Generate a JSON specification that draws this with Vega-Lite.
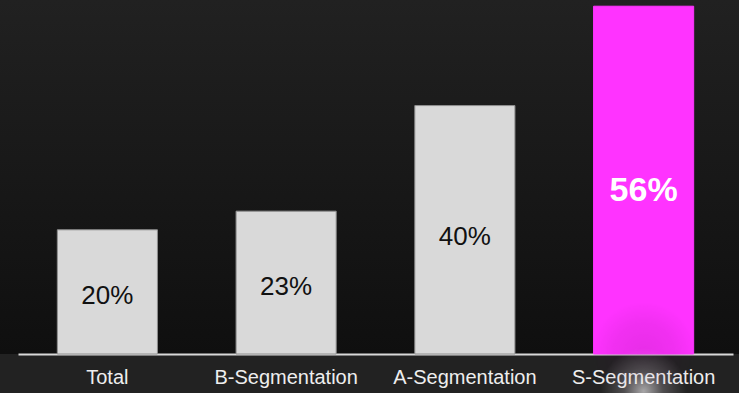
{
  "$schema": "https://vega.github.io/schema/vega-lite/v6.json",
  "width": 739,
  "height": 354,
  "autosize": "none",
  "padding": {"left": 0, "top": 0, "right": 0, "bottom": 39},
  "background": "#222222",
  "config": {
    "view": {
      "stroke": null,
      "fill": {
        "gradient": "linear",
        "x1": 0, "y1": 0, "x2": 0, "y2": 1,
        "stops": [
          {"offset": 0, "color": "#212121"},
          {"offset": 1, "color": "#0f0f0f"}
        ]
      }
    },
    "font": "Liberation Sans"
  },
  "data": {
    "values": [
      {"segment": "Total", "share": 20},
      {"segment": "B-Segmentation", "share": 23},
      {"segment": "A-Segmentation", "share": 40},
      {"segment": "S-Segmentation", "share": 56}
    ]
  },
  "encoding": {
    "x": {
      "field": "segment",
      "type": "nominal",
      "sort": null,
      "scale": {"range": [18, 733], "paddingInner": 0.44, "paddingOuter": 0.22},
      "axis": {
        "title": null,
        "ticks": false,
        "labelAngle": 0,
        "labelFont": "Liberation Sans",
        "labelFontSize": 20,
        "labelColor": "#eeeeee",
        "labelPadding": 13,
        "domainColor": "#d9d9d9",
        "domainWidth": 2
      }
    }
  },
  "layer": [
    {
      "mark": {"type": "bar", "strokeWidth": 1},
      "encoding": {
        "y": {
          "field": "share",
          "type": "quantitative",
          "scale": {"domain": [0, 57], "nice": false},
          "axis": null
        },
        "color": {
          "field": "segment",
          "type": "nominal",
          "scale": {
            "domain": ["Total", "B-Segmentation", "A-Segmentation", "S-Segmentation"],
            "range": ["#d9d9d9", "#d9d9d9", "#d9d9d9", "#ff33ff"]
          },
          "legend": null
        },
        "stroke": {
          "field": "segment",
          "type": "nominal",
          "scale": {
            "domain": ["Total", "B-Segmentation", "A-Segmentation", "S-Segmentation"],
            "range": ["#8f8f8f", "#8f8f8f", "#8f8f8f", "#ff33ff"]
          },
          "legend": null
        }
      }
    },
    {
      "mark": {
        "type": "point",
        "shape": "circle",
        "size": 11000,
        "strokeWidth": 0,
        "filled": true,
        "fill": {
          "gradient": "radial",
          "stops": [
            {"offset": 0, "color": "rgba(60,0,60,0.12)"},
            {"offset": 0.6, "color": "rgba(60,0,60,0.07)"},
            {"offset": 1, "color": "rgba(60,0,60,0)"}
          ]
        },
        "opacity": 1
      },
      "encoding": {
        "x": {"datum": "S-Segmentation"},
        "y": {"datum": 0}
      },
      "data": {"values": [{}]}
    },
    {
      "mark": {
        "type": "point",
        "shape": "circle",
        "size": 7500,
        "strokeWidth": 0,
        "filled": true,
        "fill": {
          "gradient": "radial",
          "stops": [
            {"offset": 0, "color": "rgba(255,255,255,0.6)"},
            {"offset": 0.45, "color": "rgba(255,255,255,0.2)"},
            {"offset": 1, "color": "rgba(255,255,255,0)"}
          ]
        },
        "opacity": 1
      },
      "encoding": {
        "x": {"datum": "S-Segmentation"},
        "y": {"datum": -6}
      },
      "data": {"values": [{}]}
    },
    {
      "transform": [
        {"filter": "datum.segment !== 'S-Segmentation'"},
        {"calculate": "datum.share * 0.47", "as": "labelY"},
        {"calculate": "datum.share + '%'", "as": "label"}
      ],
      "mark": {
        "type": "text",
        "font": "Liberation Sans",
        "fontSize": 26,
        "color": "#111111",
        "baseline": "middle"
      },
      "encoding": {
        "y": {"field": "labelY", "type": "quantitative"},
        "text": {"field": "label", "type": "nominal"}
      }
    },
    {
      "transform": [
        {"filter": "datum.segment === 'S-Segmentation'"},
        {"calculate": "datum.share * 0.47", "as": "labelY"},
        {"calculate": "datum.share + '%'", "as": "label"}
      ],
      "mark": {
        "type": "text",
        "font": "Liberation Sans",
        "fontSize": 34,
        "fontWeight": "bold",
        "color": "#ffffff",
        "baseline": "middle"
      },
      "encoding": {
        "y": {"field": "labelY", "type": "quantitative"},
        "text": {"field": "label", "type": "nominal"}
      }
    }
  ]
}
